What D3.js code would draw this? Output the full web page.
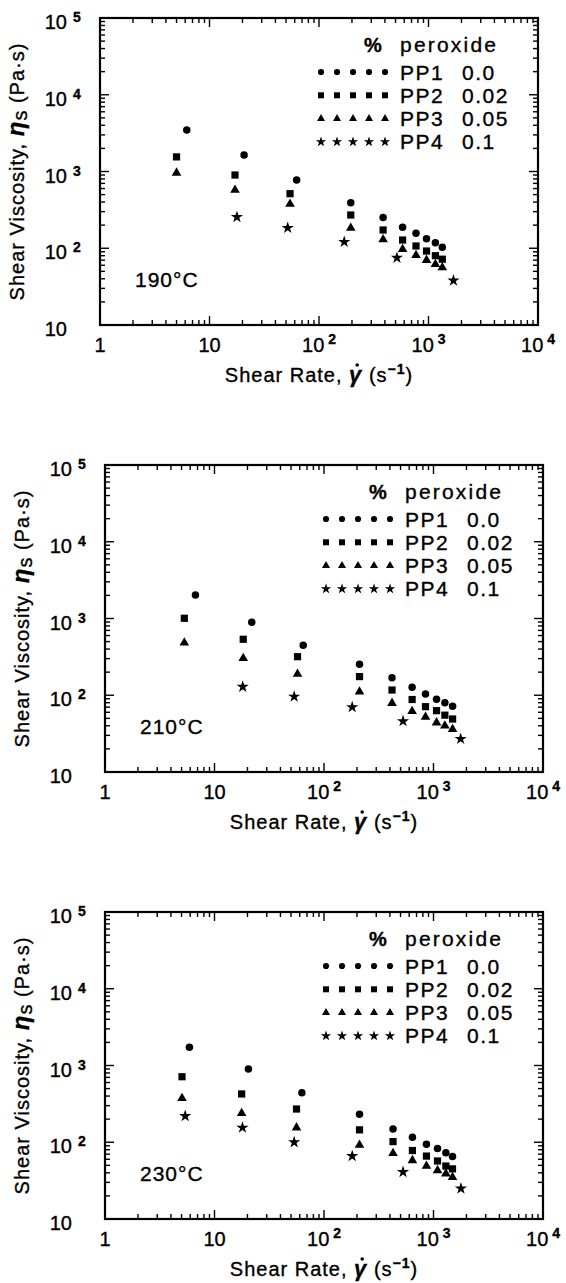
<!DOCTYPE html>
<html lang="en">
<head>
  <meta charset="UTF-8">
  <title>Shear viscosity</title>
  <script src="https://cdn.jsdelivr.net/npm/d3@7/dist/d3.min.js"></script>
  <style>
    body { margin: 0; background: #fff; }
    text { font-family: "Liberation Sans", Arial, sans-serif; fill: #000; stroke: #000; stroke-width: 0.35px; }
  </style>
</head>
<body>
  <div id="wrapper"></div>
  <script>
    // series names and peroxide content
    const grades = ["PP1", "PP2", "PP3", "PP4"]
    const peroxide = ["0.0", "0.02", "0.05", "0.1"]
    const temps = ["190°C", "210°C", "230°C"]

    // 190 C
    const rate190_PP1 = [6.2, 20.7, 62.5, 195, 385, 580, 769, 959, 1156, 1337]
    const eta190_PP1 = [3470, 1640, 774, 392, 252, 188, 157, 133, 118, 103]
    const rate190_PP2 = [5.0, 17.1, 54.4, 195, 385, 580, 769, 959, 1156, 1337]
    const eta190_PP2 = [1550, 900, 514, 271, 173, 128, 107, 92, 80, 72]
    const rate190_PP3 = [5.0, 17.1, 54.4, 195, 385, 580, 769, 959, 1156, 1337]
    const eta190_PP3 = [960, 574, 378, 184, 130, 97, 81, 70, 62, 56]
    const rate190_PP4 = [17.8, 51.8, 170, 515, 1690]
    const eta190_PP4 = [255, 184, 121, 75, 38]

    // 210 C
    const rate210_PP1 = [6.7, 21.9, 64.6, 211, 418, 638, 845, 1066, 1270, 1494]
    const eta210_PP1 = [2020, 891, 448, 253, 169, 127, 104, 89, 80, 72]
    const rate210_PP2 = [5.3, 18.3, 57.3, 211, 418, 638, 845, 1066, 1270, 1494]
    const eta210_PP2 = [1007, 536, 318, 175, 117, 88, 71, 63, 55, 49]
    const rate210_PP3 = [5.3, 18.3, 57.3, 211, 418, 638, 845, 1066, 1270, 1494]
    const eta210_PP3 = [484, 303, 189, 111, 79, 62, 52, 44, 40, 36]
    const rate210_PP4 = [18.1, 53.4, 181, 527, 1770]
    const eta210_PP4 = [129, 96, 70, 46, 27]

    // 230 C
    const rate230_PP1 = [5.9, 20.4, 62.8, 211, 427, 642, 862, 1088, 1297, 1491]
    const eta230_PP1 = [1726, 900, 442, 231, 149, 116, 94, 83, 73, 65]
    const rate230_PP2 = [5.05, 17.7, 56.1, 211, 427, 642, 862, 1088, 1297, 1491]
    const eta230_PP2 = [714, 426, 271, 145, 102, 78, 66, 57, 49, 45]
    const rate230_PP3 = [5.05, 17.7, 56.1, 211, 427, 642, 862, 1088, 1297, 1491]
    const eta230_PP3 = [374, 238, 155, 92, 72, 58, 49, 43, 39, 35]
    const rate230_PP4 = [5.4, 18.0, 53.4, 181, 527, 1780]
    const eta230_PP4 = [220, 155, 100, 66, 41, 25]

    const xDecades = [1, 10, 100, 1000, 10000]
    const yDecades = [10, 100, 1000, 10000, 100000]

    const panels = [
      { temp: temps[0], left: 100, top: 18, series: [[rate190_PP1, eta190_PP1], [rate190_PP2, eta190_PP2], [rate190_PP3, eta190_PP3], [rate190_PP4, eta190_PP4]] },
      { temp: temps[1], left: 105, top: 465, series: [[rate210_PP1, eta210_PP1], [rate210_PP2, eta210_PP2], [rate210_PP3, eta210_PP3], [rate210_PP4, eta210_PP4]] },
      { temp: temps[2], left: 105, top: 912, series: [[rate230_PP1, eta230_PP1], [rate230_PP2, eta230_PP2], [rate230_PP3, eta230_PP3], [rate230_PP4, eta230_PP4]] }
    ]

    const dims = { width: 566, height: 1283, plotW: 438, plotH: 307 }
    const symbols = [d3.symbolCircle, d3.symbolSquare, d3.symbolTriangle, d3.symbolStar]
    const sizes = [44, 52, 40, 46]
    const legendSizes = [30, 36, 28, 34]

    const svg = d3.select("#wrapper").append("svg")
      .attr("width", dims.width)
      .attr("height", dims.height)

    // minor ticks for a log decade range
    function minorTicks(lo, hi) {
      const out = []
      for (let d = lo; d < hi; d *= 10) {
        for (let k = 2; k <= 9; k++) out.push(d * k)
      }
      return out
    }

    function addPow(sel, base, exp, supSize) {
      sel.append("tspan").text(base)
      if (exp) sel.append("tspan").attr("dy", -8).attr("font-size", supSize).attr("font-weight", "bold").text(" " + exp)
    }

    panels.forEach(p => {
      const x = d3.scaleLog().domain([1, 1e4]).range([p.left, p.left + dims.plotW])
      const y = d3.scaleLog().domain([10, 1e5]).range([p.top + dims.plotH, p.top])
      const g = svg.append("g")
      const bottom = p.top + dims.plotH
      const right = p.left + dims.plotW

      // ticks on all four sides, pointing inward
      const tk = g.append("g").attr("stroke", "#000").attr("stroke-width", 1.4)
      minorTicks(1, 1e4).forEach(v => {
        tk.append("line").attr("x1", x(v)).attr("x2", x(v)).attr("y1", bottom).attr("y2", bottom - 5)
        tk.append("line").attr("x1", x(v)).attr("x2", x(v)).attr("y1", p.top).attr("y2", p.top + 5)
      })
      xDecades.forEach(v => {
        tk.append("line").attr("x1", x(v)).attr("x2", x(v)).attr("y1", bottom).attr("y2", bottom - 9)
        tk.append("line").attr("x1", x(v)).attr("x2", x(v)).attr("y1", p.top).attr("y2", p.top + 9)
      })
      minorTicks(10, 1e5).forEach(v => {
        tk.append("line").attr("y1", y(v)).attr("y2", y(v)).attr("x1", p.left).attr("x2", p.left + 5)
        tk.append("line").attr("y1", y(v)).attr("y2", y(v)).attr("x1", right).attr("x2", right - 5)
      })
      yDecades.forEach(v => {
        tk.append("line").attr("y1", y(v)).attr("y2", y(v)).attr("x1", p.left).attr("x2", p.left + 9)
        tk.append("line").attr("y1", y(v)).attr("y2", y(v)).attr("x1", right).attr("x2", right - 9)
      })

      g.append("rect")
        .attr("x", p.left).attr("y", p.top)
        .attr("width", dims.plotW).attr("height", dims.plotH)
        .attr("fill", "none").attr("stroke", "#000").attr("stroke-width", 2.2)

      // x tick labels
      xDecades.forEach(v => {
        const e = Math.round(Math.log10(v))
        const t = g.append("text").attr("x", x(v)).attr("y", bottom + 27)
          .attr("text-anchor", "middle").attr("font-size", 20)
        if (e === 0) t.text("1")
        else addPow(t, "10", e > 1 ? e : null, 14)
      })
      // y tick labels
      yDecades.forEach(v => {
        const e = Math.round(Math.log10(v))
        g.append("text").attr("x", p.left - 33).attr("y", y(v) + 11)
          .attr("text-anchor", "end").attr("font-size", 20).text("10")
        if (e > 1) g.append("text").attr("x", p.left - 27).attr("y", y(v) + 4)
          .attr("font-size", 14).attr("font-weight", "bold").text(e)
      })

      // axis titles
      const xt = g.append("text").attr("x", (p.left + right) / 2).attr("y", bottom + 57)
        .attr("text-anchor", "middle").attr("font-size", 20).attr("letter-spacing", 1)
      xt.append("tspan").text("Shear Rate, ")
      const gamma = xt.append("tspan").attr("font-style", "italic").attr("font-weight", "bold").attr("font-size", 22).text("γ")
      xt.append("tspan").text(" (s")
      xt.append("tspan").attr("dy", -8).attr("font-size", 14).attr("font-weight", "bold").text("−1")
      xt.append("tspan").attr("dy", 8).text(")")
      // dot over gamma (time derivative)
      const gb = gamma.node().getExtentOfChar(0)
      g.append("circle").attr("cx", gb.x + gb.width / 2 + 1.5).attr("cy", gb.y + 3).attr("r", 1.8)

      const yt = g.append("text")
        .attr("transform", `translate(${p.left - 76},${(p.top + bottom) / 2}) rotate(-90)`)
        .attr("text-anchor", "middle").attr("font-size", 20).attr("letter-spacing", 1)
      yt.append("tspan").text("Shear Viscosity, ")
      yt.append("tspan").attr("font-style", "italic").attr("font-weight", "bold").attr("font-size", 24).text("η")
      yt.append("tspan").attr("dy", 3).text("s")
      yt.append("tspan").attr("dy", -3).text(" (Pa·s)")

      // temperature
      g.append("text").attr("x", p.left + 35).attr("y", bottom - 38)
        .attr("font-size", 21).attr("letter-spacing", 1).text(p.temp)

      // legend
      const lg = g.append("g")
      lg.append("text").attr("x", p.left + 273).attr("y", p.top + 34)
        .attr("text-anchor", "middle").attr("font-size", 20).attr("font-weight", "bold").text("%")
      lg.append("text").attr("x", p.left + 300).attr("y", p.top + 34)
        .attr("font-size", 21).attr("letter-spacing", 2.2).text("peroxide")
      grades.forEach((name, i) => {
        const ly = p.top + 54 + i * 23.3
        d3.range(5).forEach(k => {
          lg.append("path")
            .attr("d", d3.symbol(symbols[i], legendSizes[i])())
            .attr("transform", `translate(${p.left + 221 + k * 16},${ly})`)
        })
        lg.append("text").attr("x", p.left + 300).attr("y", ly + 7.5)
          .attr("font-size", 21).attr("letter-spacing", 1.5).text(name)
        lg.append("text").attr("x", p.left + 362).attr("y", ly + 7.5)
          .attr("font-size", 21).attr("letter-spacing", 1.5).text(peroxide[i])
      })

      // data marks
      p.series.forEach(([rates, etas], i) => {
        g.append("g").selectAll("path").data(rates.map((r, k) => [r, etas[k]])).join("path")
          .attr("d", d3.symbol(symbols[i], sizes[i])())
          .attr("transform", d => `translate(${x(d[0])},${y(d[1])})`)
          .attr("fill", "#000")
      })
    })
  </script>
</body>
</html>
